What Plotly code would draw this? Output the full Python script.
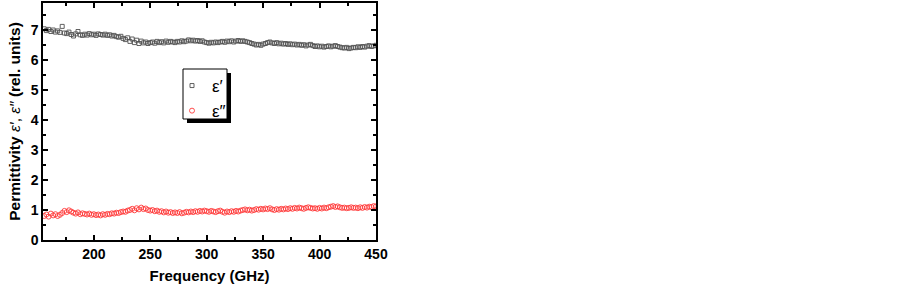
import plotly.graph_objects as go

freq_ghz = [156, 158, 160, 162, 164, 166, 168, 170,
            172, 174, 176, 178, 180, 182, 184, 186, 188, 190,
            192, 194, 196, 198, 200, 202, 204, 206, 208, 210,
            212, 214, 216, 218, 220, 222, 224, 226, 228, 230,
            232, 234, 236, 238, 240, 242, 244, 246, 248, 250,
            252, 254, 256, 258, 260, 262, 264, 266, 268, 270,
            272, 274, 276, 278, 280, 282, 284, 286, 288, 290,
            292, 294, 296, 298, 300, 302, 304, 306, 308, 310,
            312, 314, 316, 318, 320, 322, 324, 326, 328, 330,
            332, 334, 336, 338, 340, 342, 344, 346, 348, 350,
            352, 354, 356, 358, 360, 362, 364, 366, 368, 370,
            372, 374, 376, 378, 380, 382, 384, 386, 388, 390,
            392, 394, 396, 398, 400, 402, 404, 406, 408, 410,
            412, 414, 416, 418, 420, 422, 424, 426, 428, 430,
            432, 434, 436, 438, 440, 442, 444, 446, 448, 450]

eps_real = [7.04, 6.98, 7.02, 6.95, 7.00, 6.93, 6.97, 6.92,
            7.12, 6.90, 6.88, 6.93, 6.85, 6.80, 6.87, 6.95, 6.84, 6.82,
            6.86, 6.83, 6.88, 6.84, 6.86, 6.82, 6.87, 6.85, 6.83, 6.86,
            6.82, 6.84, 6.80, 6.82, 6.78, 6.76, 6.79, 6.72, 6.68, 6.74,
            6.62, 6.70, 6.58, 6.66, 6.55, 6.63, 6.57, 6.60, 6.55, 6.58,
            6.60, 6.56, 6.62, 6.58, 6.61, 6.57, 6.63, 6.59, 6.62, 6.60,
            6.58, 6.62, 6.60, 6.64, 6.61, 6.63, 6.67, 6.64, 6.66, 6.63,
            6.65, 6.62, 6.64, 6.60, 6.58, 6.56, 6.59, 6.57, 6.60, 6.58,
            6.60, 6.62, 6.59, 6.63, 6.61, 6.64, 6.60, 6.63, 6.65, 6.62,
            6.64, 6.62, 6.60, 6.58, 6.55, 6.53, 6.50, 6.52, 6.49, 6.53,
            6.55, 6.58, 6.60, 6.57, 6.55, 6.58, 6.54, 6.56, 6.53, 6.55,
            6.52, 6.54, 6.51, 6.53, 6.50, 6.52, 6.49, 6.51, 6.47, 6.50,
            6.52, 6.48, 6.45, 6.47, 6.44, 6.46, 6.43, 6.45, 6.47, 6.44,
            6.46, 6.48, 6.45, 6.43, 6.41, 6.40, 6.42, 6.38, 6.40, 6.42,
            6.41, 6.44, 6.42, 6.45, 6.43, 6.46, 6.48, 6.45, 6.47, 6.49]

eps_imag = [0.80, 0.85, 0.78, 0.88, 0.82, 0.86, 0.80, 0.84,
            0.90, 0.97, 0.93, 0.99, 0.95, 0.91, 0.88, 0.92, 0.86, 0.89,
            0.87, 0.85, 0.88, 0.84, 0.86, 0.83, 0.85, 0.82, 0.86, 0.84,
            0.87, 0.86, 0.89, 0.88, 0.91, 0.90, 0.93, 0.95, 0.94, 0.98,
            1.00, 1.04, 0.99, 1.06, 1.02, 1.08, 1.03, 1.05, 1.00, 0.98,
            1.00, 0.96, 0.98, 0.94, 0.96, 0.92, 0.95, 0.91, 0.93, 0.90,
            0.92, 0.90, 0.93, 0.89, 0.91, 0.94, 0.92, 0.95, 0.93, 0.96,
            0.94, 0.97, 0.95, 0.98, 0.96, 0.94, 0.97, 0.95, 0.93, 0.96,
            0.98, 0.94, 0.91, 0.95, 0.93, 0.96, 0.94, 0.97, 0.95, 0.98,
            1.00, 1.02, 0.99, 1.01, 0.98, 1.00, 1.03, 1.01, 1.04, 1.02,
            1.05, 1.03, 1.06, 1.02, 1.00, 1.03, 1.01, 1.04, 1.02, 1.05,
            1.03, 1.06, 1.04, 1.07, 1.05, 1.08, 1.06, 1.04, 1.07, 1.09,
            1.07, 1.05, 1.06, 1.04, 1.07, 1.05, 1.08, 1.06, 1.09, 1.11,
            1.13, 1.10, 1.12, 1.09, 1.07, 1.08, 1.06, 1.07, 1.09, 1.07,
            1.08, 1.06, 1.09, 1.07, 1.10, 1.08, 1.11, 1.10, 1.13, 1.12]

x_ticks = [200, 250, 300, 350, 400, 450]
y_ticks = [0, 1, 2, 3, 4, 5, 6, 7]

FONT = "Arial, 'Liberation Sans', sans-serif"

# plot area in pixels: x 43..376, y 3..240
def px_x(p):
    return (p - 43) / 333.0

def px_y(q):
    return (240 - q) / 237.0

fig = go.Figure()
fig.add_trace(go.Scatter(
    x=freq_ghz, y=eps_real, mode="markers", name="ε′",
    marker=dict(symbol="square-open", size=4, color="#505050", line=dict(width=0.9))))
fig.add_trace(go.Scatter(
    x=freq_ghz, y=eps_imag, mode="markers", name="ε″",
    marker=dict(symbol="circle-open", size=5, color="#ff3b3b", line=dict(width=0.9))))

axis_common = dict(
    showline=True, linecolor="black", linewidth=1.5, mirror="allticks",
    ticks="inside", ticklen=5, tickwidth=1.5, tickcolor="black",
    showgrid=False, zeroline=False, automargin=False,
    tickfont=dict(family=FONT, size=14, color="black", weight="bold"),
)

# legend frame with drop shadow
shapes = [
    dict(type="rect", xref="paper", yref="paper",
         x0=px_x(187), x1=px_x(231), y0=px_y(123), y1=px_y(73),
         fillcolor="black", line=dict(width=0), layer="above"),
    dict(type="rect", xref="paper", yref="paper",
         x0=px_x(183), x1=px_x(227), y0=px_y(119), y1=px_y(69),
         fillcolor="white", line=dict(color="black", width=1), layer="above"),
]

fig.update_layout(
    width=903, height=286,
    margin=dict(l=43, r=527, t=3, b=46),
    paper_bgcolor="white", plot_bgcolor="white",
    showlegend=True,
    shapes=shapes,
    legend=dict(x=px_x(172), y=px_y(68), xanchor="left", yanchor="top",
                bgcolor="rgba(0,0,0,0)", borderwidth=0,
                font=dict(family=FONT, size=17, color="black"),
                itemwidth=30, tracegroupgap=0),
    xaxis=dict(range=[155, 450], tickvals=x_ticks,
               minor=dict(ticks="inside", ticklen=3, tickwidth=1.5, tickcolor="black", dtick=25),
               title=dict(text="<b>Frequency (GHz)</b>", standoff=10,
                          font=dict(family=FONT, size=15, color="black")),
               **axis_common),
    yaxis=dict(range=[0, 7.9], tickvals=y_ticks,
               minor=dict(ticks="inside", ticklen=3, tickwidth=1.5, tickcolor="black", dtick=0.5),
               title=dict(text="<b>Permittivity</b> <i>ε′</i>, <i>ε″</i> <b>(rel. units)</b>", standoff=6,
                          font=dict(family=FONT, size=15.5, color="black")),
               **axis_common),
)

fig.write_html("out.html",
               config={"displayModeBar": False},
               post_script="document.body.style.margin='0px';document.body.style.padding='0px';")
